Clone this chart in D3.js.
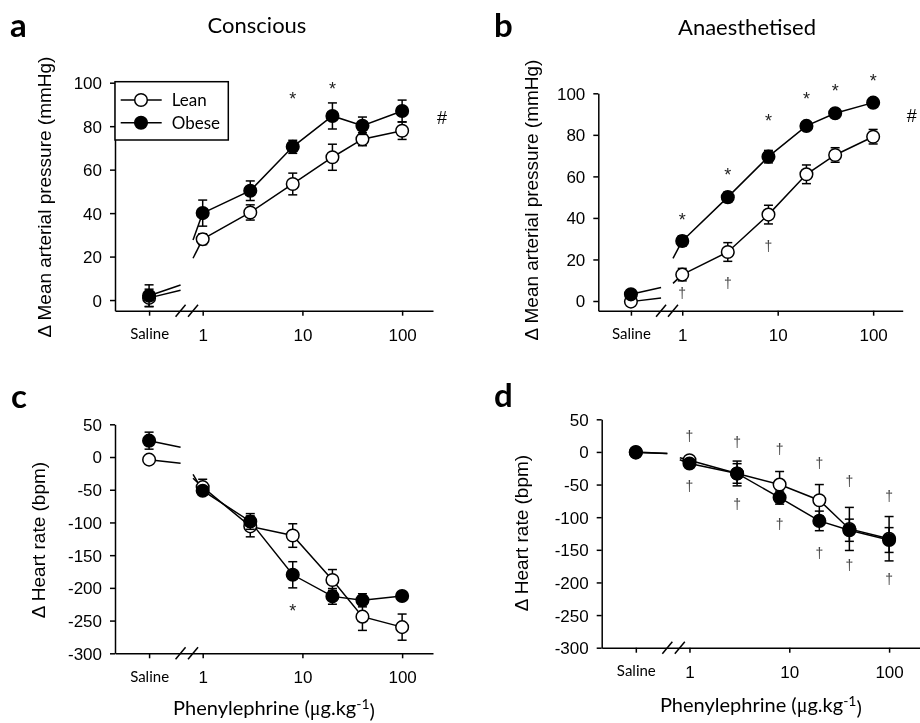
<!DOCTYPE html>
<html>
<head>
<meta charset="utf-8">
<script src="https://cdn.jsdelivr.net/npm/d3@7"></script>
<style>
  body { margin: 0; background: #fff; }
  svg { display: block; transform: translateZ(0); }
</style>
</head>
<body>
<svg id="fig" width="920" height="723"></svg>
<script>
// x categories: saline first, then phenylephrine doses (ug/kg)
const doseLabels = ["Saline", 1, 3, 8, 20, 40, 100]
const doses = [1, 3, 8, 20, 40, 100]
const xTickValues = ["Saline", 1, 10, 100]
const seriesNames = ["Lean", "Obese"]

// a - conscious, mean arterial pressure (mmHg)
const mapConsLean = [1, 28, 40.3, 53.4, 65.7, 74, 77.9]
const mapConsLeanSem = [4, 2.5, 3.5, 5, 6, 3, 4]
const mapConsObese = [2, 40, 50.3, 70.5, 84.7, 80.2, 87]
const mapConsObeseSem = [5, 6, 4.5, 3, 6, 4, 5]

// b - anaesthetised, mean arterial pressure (mmHg)
const mapAnaLean = [-0.3, 12.7, 23.6, 41.6, 61, 70.3, 79.1]
const mapAnaLeanSem = [1.5, 3, 4.5, 4.5, 4.5, 3.5, 3.5]
const mapAnaObese = [3.2, 28.9, 50, 69.5, 84.3, 90.4, 95.5]
const mapAnaObeseSem = [1.5, 2.5, 2.5, 3, 2, 2, 2]

// c - conscious, heart rate (bpm)
const hrConsLean = [-4, -46, -106, -120, -188, -244, -260]
const hrConsLeanSem = [4, 12, 16, 18, 16, 21, 20]
const hrConsObese = [25, -51.5, -98.5, -180, -213, -219, -212.5]
const hrConsObeseSem = [13, 5, 12, 20, 12, 10, 5]

// d - anaesthetised, heart rate (bpm)
const hrAnaLean = [-1, -12.7, -33, -50, -74, -118, -133]
const hrAnaLeanSem = [2, 4, 19, 20, 24, 33, 34]
const hrAnaObese = [0, -17.8, -33, -70, -105.7, -120, -135]
const hrAnaObeseSem = [2, 4, 15, 10, 15, 17, 19]

// significance marks: dose and height (in y units)
const starsA = [{dose: 8, y: 93.6}, {dose: 20, y: 98.2}]
const hashA = 83.8
const starsB = [{dose: 1, y: 39.8}, {dose: 3, y: 61.8}, {dose: 8, y: 87.5}, {dose: 20, y: 98.1}, {dose: 40, y: 102}, {dose: 100, y: 106.8}]
const hashB = 89
const daggersB = [{dose: 1, y: 3.7}, {dose: 3, y: 8.2}, {dose: 8, y: 26.1}]
const starsC = [{dose: 8, y: -232}]
const daggersD = [
    {dose: 1, y: 23}, {dose: 3, y: 13.8}, {dose: 8, y: 2.6}, {dose: 20, y: -17.8}, {dose: 40, y: -46.4}, {dose: 100, y: -69},
    {dose: 1, y: -53.6}, {dose: 3, y: -81.7}, {dose: 8, y: -112}, {dose: 20, y: -155.7}, {dose: 40, y: -175}, {dose: 100, y: -195.5}
]

const mapTicks = [0, 20, 40, 60, 80, 100]
const hrTicks = [50, 0, -50, -100, -150, -200, -250, -300]

// broken log axis: saline sits at a virtual dose left of the break
const X_DOMAIN = [0.132, 204]
const SALINE_AT = 0.29
const BREAK_AT = [0.6, 0.8]
const BREAK_FRAC = [0.13, 0.675]

const numFont = "'Liberation Sans', Arial, sans-serif"
const textFont = "Lato, 'Open Sans', sans-serif"

const svg = d3.select("#fig")

const panels = [
    {
        letter: "a", letterPos: [10, 37], title: "Conscious", titlePos: [257, 33],
        x0: 115, x1: 433, yTop: 82.7, yBot: 310.7, yDomain: [-4.9, 100], ticks: mapTicks,
        yTitle: "\u0394 Mean arterial pressure (mmHg)", yTitlePos: [51, 197],
        lean: mapConsLean, leanSem: mapConsLeanSem, obese: mapConsObese, obeseSem: mapConsObeseSem,
        stars: starsA, hash: hashA, daggers: [], legend: true
    },
    {
        letter: "b", letterPos: [494, 37], title: "Anaesthetised", titlePos: [747, 35],
        x0: 598.3, x1: 902.7, yTop: 93.3, yBot: 310.7, yDomain: [-4.67, 100], ticks: mapTicks,
        yTitle: "\u0394 Mean arterial pressure (mmHg)", yTitlePos: [538, 200],
        lean: mapAnaLean, leanSem: mapAnaLeanSem, obese: mapAnaObese, obeseSem: mapAnaObeseSem,
        stars: starsB, hash: hashB, daggers: daggersB
    },
    {
        letter: "c", letterPos: [11, 408],
        x0: 115, x1: 433, yTop: 424.3, yBot: 653.3, yDomain: [-300, 50], ticks: hrTicks,
        yTitle: "\u0394 Heart rate (bpm)", yTitlePos: [45, 540],
        lean: hrConsLean, leanSem: hrConsLeanSem, obese: hrConsObese, obeseSem: hrConsObeseSem,
        stars: starsC, daggers: [], xTitleY: 715
    },
    {
        letter: "d", letterPos: [494, 407],
        x0: 601.7, x1: 920, yTop: 419.3, yBot: 647.7, yDomain: [-300, 50], ticks: hrTicks,
        yTitle: "\u0394 Heart rate (bpm)", yTitlePos: [528, 533],
        lean: hrAnaLean, leanSem: hrAnaLeanSem, obese: hrAnaObese, obeseSem: hrAnaObeseSem,
        stars: [], daggers: daggersD, xTitleY: 712
    }
]

panels.forEach(p => drawPanel(p))

function drawPanel(p)
{
    const x = d3.scaleLog().domain(X_DOMAIN).range([p.x0, p.x1])
    const y = d3.scaleLinear().domain(p.yDomain).range([p.yBot, p.yTop])
    const xOf = d => d === "Saline" ? x(SALINE_AT) : x(d)

    const g = svg.append("g")

    // letter + title
    g.append("text")
        .attr("x", p.letterPos[0]).attr("y", p.letterPos[1])
        .style("font-family", textFont).style("font-weight", "bold").style("font-size", "33px")
        .text(p.letter)

    if (p.title) {
        g.append("text")
            .attr("x", p.titlePos[0]).attr("y", p.titlePos[1])
            .attr("text-anchor", "middle")
            .style("font-family", textFont).style("font-size", "22px")
            .text(p.title)
    }

    // axes (plain hyphen for negatives, as in the original)
    const yAxis = d3.axisLeft(y).tickValues(p.ticks).tickFormat(d => String(d))
        .tickSize(5).tickSizeOuter(0).tickPadding(8)
    const ya = g.append("g").attr("transform", `translate(${p.x0},0)`).call(yAxis)
    ya.selectAll("text").style("font-family", numFont).style("font-size", "17px").attr("dy", "0.35em")

    const xAxis = d3.axisBottom(x)
        .tickValues(xTickValues.map(d => d === "Saline" ? SALINE_AT : d))
        .tickFormat((d, i) => xTickValues[i])
        .tickSize(5).tickSizeOuter(0).tickPadding(13)
    const xa = g.append("g").attr("transform", `translate(0,${p.yBot})`).call(xAxis)
    xa.selectAll("text").style("font-family", numFont).style("font-size", "17px")
    xa.selectAll("text").filter(d => d === SALINE_AT)
        .style("font-family", textFont).style("font-size", "15px").style("font-weight", 400)

    g.selectAll(".domain, .tick line").attr("stroke", "#000").attr("stroke-width", 1.5)

    // axis break marks
    g.selectAll(".brk")
        .data(BREAK_AT)
        .enter()
        .append("line")
        .attr("x1", d => x(d) - 5).attr("y1", p.yBot + 6)
        .attr("x2", d => x(d) + 5).attr("y2", p.yBot - 6)
        .attr("stroke", "#000").attr("stroke-width", 1.5)

    // y title
    g.append("text")
        .attr("transform", `translate(${p.yTitlePos[0]},${p.yTitlePos[1]}) rotate(-90)`)
        .attr("text-anchor", "middle")
        .style("font-family", numFont).style("font-size", "19px")
        .text(p.yTitle)

    // x title
    if (p.xTitleY) {
        const t = g.append("text")
            .attr("x", (p.x0 + p.x1) / 2).attr("y", p.xTitleY)
            .attr("text-anchor", "middle")
            .style("font-family", textFont).style("font-size", "20px")
        t.append("tspan").text("Phenylephrine (")
        t.append("tspan").style("font-family", "'Liberation Serif', serif").text("\u03bc")
        t.append("tspan").text("g.kg")
        t.append("tspan").attr("dy", "-0.45em").style("font-size", "14px").text("-1")
        t.append("tspan").attr("dy", "0.45em").text(")")
    }

    const series = [
        {name: seriesNames[0], vals: p.lean, sem: p.leanSem, fill: "#fff"},
        {name: seriesNames[1], vals: p.obese, sem: p.obeseSem, fill: "#000"}
    ]

    const line = d3.line()

    series.forEach(s => {
        const pts = doses.map((d, i) => [x(d), y(s.vals[i + 1])])
        const v0 = s.vals[0], v1 = s.vals[1]

        // connection through the axis break
        g.append("path")
            .attr("d", line([[xOf("Saline"), y(v0)], [x(BREAK_AT[0]), y(v0 + (v1 - v0) * BREAK_FRAC[0])]]))
            .attr("fill", "none").attr("stroke", "#000").attr("stroke-width", 1.5)
        g.append("path")
            .attr("d", line([[x(BREAK_AT[1]), y(v0 + (v1 - v0) * BREAK_FRAC[1])], [x(doses[0]), y(v1)]]))
            .attr("fill", "none").attr("stroke", "#000").attr("stroke-width", 1.5)

        g.append("path")
            .attr("d", line(pts))
            .attr("fill", "none").attr("stroke", "#000").attr("stroke-width", 1.5)
    })

    series.forEach(s => {
        const pts = doseLabels.map((d, i) => ({x: xOf(d), v: s.vals[i], e: s.sem[i]}))

        const eb = g.append("g").attr("stroke", "#000").attr("stroke-width", 1.5)
        eb.selectAll("line.bar")
            .data(pts).enter().append("line")
            .attr("x1", d => d.x).attr("x2", d => d.x)
            .attr("y1", d => y(d.v - d.e)).attr("y2", d => y(d.v + d.e))
        eb.selectAll("line.capHi")
            .data(pts).enter().append("line")
            .attr("x1", d => d.x - 4.5).attr("x2", d => d.x + 4.5)
            .attr("y1", d => y(d.v + d.e)).attr("y2", d => y(d.v + d.e))
        eb.selectAll("line.capLo")
            .data(pts).enter().append("line")
            .attr("x1", d => d.x - 4.5).attr("x2", d => d.x + 4.5)
            .attr("y1", d => y(d.v - d.e)).attr("y2", d => y(d.v - d.e))

        g.selectAll(null)
            .data(pts).enter().append("circle")
            .attr("cx", d => d.x).attr("cy", d => y(d.v))
            .attr("r", 6.3)
            .attr("fill", s.fill).attr("stroke", "#000").attr("stroke-width", 1.5)
    })

    // significance marks
    g.selectAll(null)
        .data(p.stars).enter().append("text")
        .attr("x", d => x(d.dose)).attr("y", d => y(d.y))
        .attr("dy", "0.45em").attr("text-anchor", "middle")
        .style("font-family", numFont).style("font-size", "18px").attr("fill", "#222")
        .text("*")

    g.append("g")
        .selectAll("text")
        .data(p.daggers).enter().append("text")
        .attr("x", d => x(d.dose)).attr("y", d => y(d.y))
        .attr("dy", "0.3em").attr("text-anchor", "middle")
        .style("font-family", numFont).style("font-size", "14px").attr("fill", "#444")
        .text("\u2020")

    if (p.hash !== undefined) {
        g.append("text")
            .attr("x", p.x1 + 9).attr("y", y(p.hash))
            .attr("dy", "0.35em").attr("text-anchor", "middle")
            .style("font-family", numFont).style("font-size", "18px")
            .text("#")
    }

    // legend (panel a only)
    if (p.legend) {
        const lg = g.append("g").attr("transform", `translate(${p.x0},81.7)`)
        lg.append("rect")
            .attr("width", 113.3).attr("height", 58.3)
            .attr("fill", "#fff").attr("stroke", "#000").attr("stroke-width", 1.5)
        series.forEach((s, i) => {
            const row = lg.append("g").attr("transform", `translate(0,${18.3 + i * 22.7})`)
            row.append("line").attr("x1", 5.7).attr("x2", 46.7)
                .attr("stroke", "#000").attr("stroke-width", 1.5)
            row.append("circle").attr("cx", 26).attr("r", 6.3)
                .attr("fill", s.fill).attr("stroke", "#000").attr("stroke-width", 1.5)
            row.append("text").attr("x", 56.7).attr("dy", "0.35em")
                .style("font-family", textFont).style("font-size", "17px")
                .text(s.name)
        })
    }
}
</script>
</body>
</html>
